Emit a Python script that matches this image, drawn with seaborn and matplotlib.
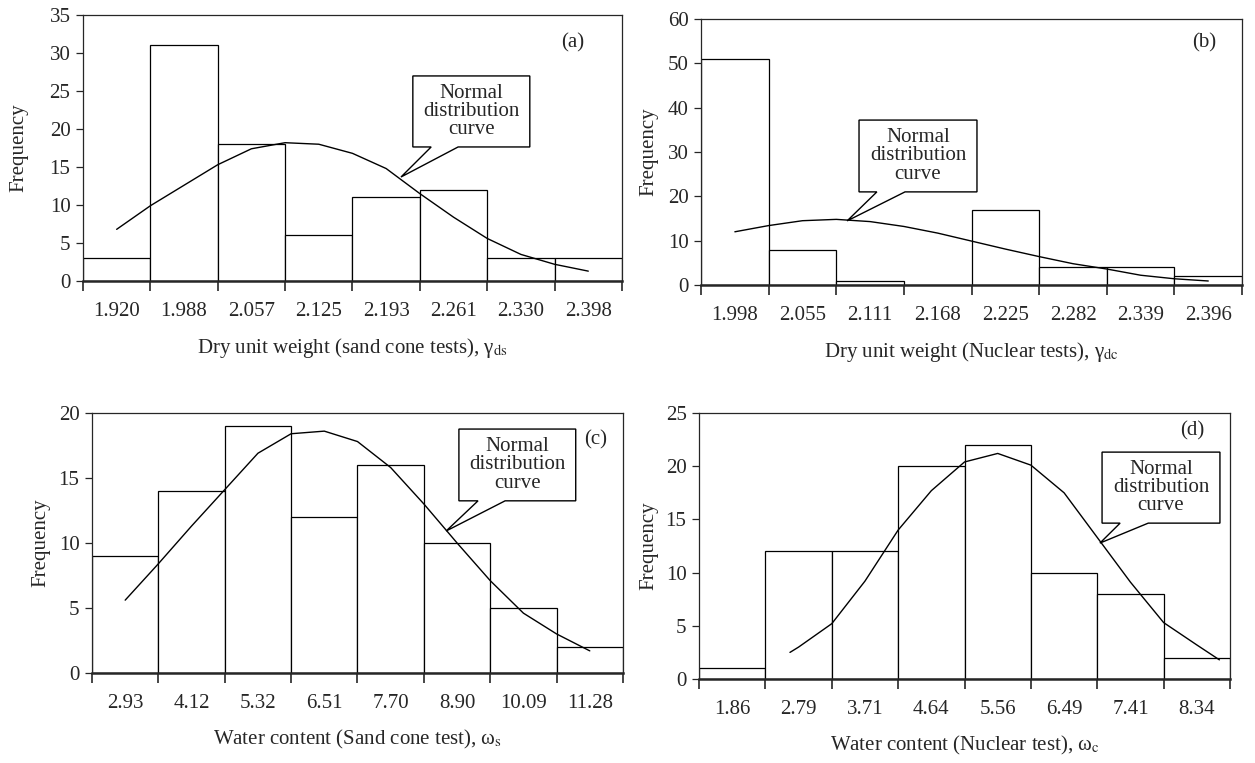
import matplotlib
matplotlib.use("Agg")
import matplotlib.pyplot as plt
import seaborn as sns
from matplotlib.patches import Polygon

# (a) Dry unit weight, sand cone tests
dry_sand_bins = ["1.920", "1.988", "2.057", "2.125", "2.193", "2.261", "2.330", "2.398"]
dry_sand_freq = [3, 31, 18, 6, 11, 12, 3, 3]
dry_sand_curve_x = [0, 0.5, 1, 1.5, 2, 2.5, 3, 3.5, 4, 4.5, 5, 5.5, 6, 6.5, 7]
dry_sand_curve_y = [6.8, 9.9, 12.6, 15.3, 17.4, 18.2, 18.0, 16.8, 14.8, 11.5, 8.4, 5.6, 3.5, 2.2, 1.3]

# (b) Dry unit weight, nuclear tests
dry_nuc_bins = ["1.998", "2.055", "2.111", "2.168", "2.225", "2.282", "2.339", "2.396"]
dry_nuc_freq = [51, 8, 1, 0, 17, 4, 4, 2]
dry_nuc_curve_x = [0, 0.5, 1, 1.5, 2, 2.5, 3, 3.5, 4, 4.5, 5, 5.5, 6, 6.5, 7]
dry_nuc_curve_y = [12.0, 13.4, 14.5, 14.8, 14.3, 13.2, 11.7, 9.9, 8.1, 6.4, 4.8, 3.6, 2.2, 1.4, 0.9]

# (c) Water content, sand cone test
wc_sand_bins = ["2.93", "4.12", "5.32", "6.51", "7.70", "8.90", "10.09", "11.28"]
wc_sand_freq = [9, 14, 19, 12, 16, 10, 5, 2]
wc_sand_curve_x = [0, 0.5, 1, 1.5, 2, 2.5, 3, 3.5, 4, 4.5, 5, 5.5, 6, 6.5, 7]
wc_sand_curve_y = [5.6, 8.4, 11.3, 14.1, 16.9, 18.4, 18.6, 17.8, 15.8, 13.0, 10.0, 7.1, 4.6, 3.0, 1.7]

# (d) Water content, nuclear test
wc_nuc_bins = ["1.86", "2.79", "3.71", "4.64", "5.56", "6.49", "7.41", "8.34"]
wc_nuc_freq = [1, 12, 12, 20, 22, 10, 8, 2]
wc_nuc_curve_x = [0.87, 1, 1.5, 2, 2.5, 3, 3.5, 4, 4.5, 5, 5.5, 6, 6.5, 7, 7.34]
wc_nuc_curve_y = [2.5, 3.0, 5.2, 9.2, 14.0, 17.7, 20.4, 21.2, 20.1, 17.5, 13.3, 9.1, 5.3, 3.2, 1.8]

FS = 15

sns.set_style("ticks")
plt.rcParams["font.family"] = ["Liberation Serif", "DejaVu Serif"]
plt.rcParams["mathtext.fontset"] = "stix"


def draw_callout(ax, box, base, tip):
    """Rectangular callout with a wedge pointing at the curve (axes fraction)."""
    x0, y0, x1, y1 = box
    pts = [(x0, y1), (x1, y1), (x1, y0), (base[1], y0), tip, (base[0], y0), (x0, y0)]
    ax.add_patch(Polygon(pts, closed=True, transform=ax.transAxes, facecolor="white",
                         edgecolor="black", linewidth=1.0, zorder=6, clip_on=False))
    ax.text((x0 + x1) / 2, (y0 + y1) / 2, "Normal\ndistribution\ncurve",
            transform=ax.transAxes, ha="center", va="center", fontsize=FS,
            linespacing=0.95, zorder=7)


def draw_panel(ax, bins, freq, cx, cy, ymax, ystep, xlabel, tag, tag_pos,
               ylabel_x, callout):
    sns.barplot(x=bins, y=freq, width=1, color="white", saturation=1,
                edgecolor="black", linewidth=0.9, ax=ax, zorder=2)
    sns.lineplot(x=cx, y=cy, color="black", linewidth=1.0, sort=False, ax=ax, zorder=3)
    n = len(bins)
    ax.set_xlim(-0.5, n - 0.5)
    ax.set_ylim(0, ymax)
    ax.set_yticks(range(0, ymax + 1, ystep))
    ax.set_xticks(range(n))
    ax.set_xticklabels(bins)
    ax.set_xticks([i - 0.5 for i in range(n + 1)], minor=True)
    ax.tick_params(axis="x", which="major", length=0, pad=15, labelsize=FS)
    ax.tick_params(axis="x", which="minor", length=7, width=1.2, direction="out")
    ax.tick_params(axis="y", length=5, width=0.9, direction="out", pad=4, labelsize=FS)
    for side in ["top", "right", "left"]:
        ax.spines[side].set_linewidth(0.9)
    ax.spines["bottom"].set_linewidth(1.8)
    ax.set_xlabel(xlabel, fontsize=FS, labelpad=11)
    ax.set_ylabel("Frequency", fontsize=FS)
    ax.yaxis.set_label_coords(ylabel_x, 0.5)
    ax.text(tag_pos[0], tag_pos[1], tag, transform=ax.transAxes, fontsize=FS,
            ha="center", va="center")
    draw_callout(ax, *callout)


fig = plt.figure(figsize=(12.55, 7.63), dpi=100)
ax_a = fig.add_axes([0.0661, 0.6317, 0.4295, 0.3486])
ax_b = fig.add_axes([0.5586, 0.6265, 0.4311, 0.3486])
ax_c = fig.add_axes([0.0733, 0.1180, 0.4231, 0.3408])
ax_d = fig.add_axes([0.5570, 0.1101, 0.4231, 0.3486])

draw_panel(ax_a, dry_sand_bins, dry_sand_freq, dry_sand_curve_x, dry_sand_curve_y,
           35, 5, r"Dry unit weight (sand cone tests), γ$_{\mathrm{ds}}$",
           "(a)", (0.909, 0.895), -0.102,
           ((0.612, 0.504, 0.829, 0.771), (0.646, 0.696), (0.590, 0.391)))
draw_panel(ax_b, dry_nuc_bins, dry_nuc_freq, dry_nuc_curve_x, dry_nuc_curve_y,
           60, 10, r"Dry unit weight (Nuclear tests), γ$_{\mathrm{dc}}$",
           "(b)", (0.930, 0.910), -0.079,
           ((0.292, 0.350, 0.510, 0.620), (0.325, 0.377), (0.270, 0.241)))
draw_panel(ax_c, wc_sand_bins, wc_sand_freq, wc_sand_curve_x, wc_sand_curve_y,
           20, 5, r"Water content (Sand cone test), ω$_{\mathrm{s}}$",
           "(c)", (0.949, 0.896), -0.079,
           ((0.691, 0.662, 0.911, 0.938), (0.727, 0.778), (0.667, 0.546)))
draw_panel(ax_d, wc_nuc_bins, wc_nuc_freq, wc_nuc_curve_x, wc_nuc_curve_y,
           25, 5, r"Water content (Nuclear test), ω$_{\mathrm{c}}$",
           "(d)", (0.928, 0.932), -0.077,
           ((0.759, 0.586, 0.981, 0.853), (0.793, 0.846), (0.755, 0.511)))

fig.savefig("out.png", dpi=100, facecolor="white")
